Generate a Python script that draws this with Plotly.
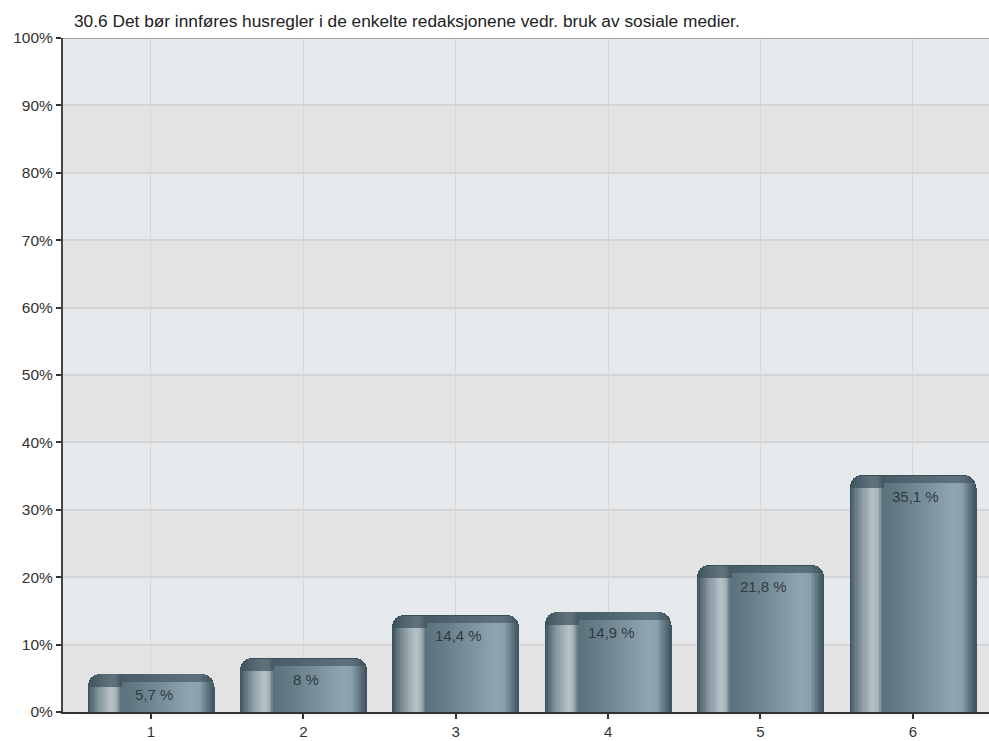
import plotly.graph_objects as go
import numpy as np

# ---- data ----
categories = [1, 2, 3, 4, 5, 6]
values = [5.7, 8.0, 14.4, 14.9, 21.8, 35.1]
y_ticks = [0, 10, 20, 30, 40, 50, 60, 70, 80, 90, 100]
y_tick_labels = [f"{t}%" for t in y_ticks]
title_text = "30.6 Det bør innføres husregler i de enkelte redaksjonene vedr. bruk av sosiale medier."

# ---- geometry / style ----
W, H = 989, 741
ML, MR, MT, MB = 63, 0, 38, 29
X_RANGE = [0.4226, 6.5]
BAR_W = 0.83
plot_w = W - ML - MR
plot_h = H - MT - MB
px_per_x = plot_w / (X_RANGE[1] - X_RANGE[0])
px_per_y = plot_h / 100.0
RADIUS = 12
FONT = "Liberation Sans, Arial, Helvetica, sans-serif"

# horizontal colour profile across a bar (fraction, colour)
stops = [
    (0.00, (0x3b, 0x4f, 0x59)),
    (0.04, (0x5d, 0x71, 0x7b)),
    (0.10, (0x8a, 0x9a, 0xa2)),
    (0.19, (0xb8, 0xc3, 0xc8)),
    (0.23, (0xa5, 0xb2, 0xb8)),
    (0.255, (0x6f, 0x84, 0x8f)),
    (0.27, (0x5b, 0x71, 0x7c)),
    (0.45, (0x6a, 0x81, 0x8c)),
    (0.82, (0x8f, 0xa5, 0xb1)),
    (0.89, (0x8a, 0xa0, 0xac)),
    (0.95, (0x5f, 0x75, 0x80)),
    (1.00, (0x3d, 0x52, 0x5c)),
]
EDGE = (0x3b, 0x4f, 0x59)


def colour_at(f, dark=0.0):
    for (f0, c0), (f1, c1) in zip(stops[:-1], stops[1:]):
        if f0 <= f <= f1:
            t = 0 if f1 == f0 else (f - f0) / (f1 - f0)
            c = [a + (b - a) * t for a, b in zip(c0, c1)]
            break
    else:
        c = list(stops[-1][1])
    c = [round(x * (1 - dark) + e * dark) for x, e in zip(c, EDGE)]
    return f"rgb({c[0]},{c[1]},{c[2]})"


fig = go.Figure()

# outer rounded bar (edge colour)
fig.add_trace(go.Bar(
    x=categories, y=values, width=BAR_W,
    marker=dict(color="rgb(59,79,89)", line=dict(width=0), cornerradius=RADIUS),
    hoverinfo="skip", showlegend=False,
))

N = 80
bar_px = BAR_W * px_per_x
sw = BAR_W / N
strip_specs = []
for i in range(N):
    f_mid = (i + 0.5) / N
    left_px = i / N * bar_px
    right_px = (i + 1) / N * bar_px
    d = min(left_px, bar_px - right_px)
    if d < RADIUS:
        curve = RADIUS - np.sqrt(max(RADIUS ** 2 - (RADIUS - d) ** 2, 0))
    else:
        curve = 0.0
    cap_px = 13.0 if f_mid < 0.27 else 8.0
    cap_px = max(cap_px, curve + 1.0)
    strip_specs.append((i, f_mid, curve, cap_px))

# cap strips (darker version of the profile)
for i, f_mid, curve, cap_px in strip_specs:
    if curve >= RADIUS - 0.5:
        continue
    ys = [v - (curve + 0.6) / px_per_y for v in values]
    fig.add_trace(go.Bar(
        x=categories, y=ys, width=sw * 1.6,
        offset=-BAR_W / 2 + i * sw - (0.3 * sw if i > 0 else 0),
        marker=dict(color=colour_at(f_mid, dark=0.7 if f_mid < 0.27 else 0.6), line=dict(width=0)),
        hoverinfo="skip", showlegend=False,
    ))

# body strips
for i, f_mid, curve, cap_px in strip_specs:
    ys = [v - cap_px / px_per_y for v in values]
    fig.add_trace(go.Bar(
        x=categories, y=ys, width=sw * 1.6,
        offset=-BAR_W / 2 + i * sw - (0.3 * sw if i > 0 else 0),
        marker=dict(color=colour_at(f_mid), line=dict(width=0)),
        hoverinfo="skip", showlegend=False,
    ))

# background bands
shapes = []
for k in range(10):
    lo, hi = k * 10, (k + 1) * 10
    if k % 2 == 0:
        shapes.append(dict(type="rect", xref="paper", yref="y", x0=0, x1=1, y0=lo, y1=hi,
                           fillcolor="#e3e3e4", line=dict(width=0), layer="below"))
# top border
shapes.append(dict(type="line", xref="paper", yref="y", x0=0, x1=1, y0=100, y1=100,
                   line=dict(color="#a3a3a3", width=2), layer="above"))
# soft shadow under the x axis
for j, a in enumerate([0.07, 0.05, 0.035, 0.02, 0.01]):
    shapes.append(dict(type="rect", xref="paper", yref="paper", x0=0.02, x1=1,
                       y0=-(j + 1) * 1.2 / plot_h, y1=-j * 1.2 / plot_h,
                       fillcolor=f"rgba(0,0,0,{a})", line=dict(width=0), layer="below"))

annotations = []
for c, v in zip(categories, values):
    annotations.append(dict(
        x=c, y=v, xref="x", yref="y", yshift=-21, xshift=3,
        text=f"{v:g}".replace(".", ",") + " %", showarrow=False,
        font=dict(family=FONT, size=15, color="#2f3b42"),
    ))
annotations.append(dict(
    x=(72 - ML) / plot_w, y=(H - MB - 21) / plot_h, xref="paper", yref="paper",
    text=title_text, showarrow=False, xanchor="left", yanchor="middle",
    font=dict(family=FONT, size=17.3, color="#222222"),
))

fig.update_layout(
    width=W, height=H,
    margin=dict(l=ML, r=MR, t=MT, b=MB, pad=0),
    paper_bgcolor="white", plot_bgcolor="#e6e9ec",
    barmode="overlay", bargap=0,
    showlegend=False,
    shapes=shapes, annotations=annotations,
    font=dict(family=FONT, size=15, color="#333333"),
    xaxis=dict(
        range=X_RANGE, tickmode="array", tickvals=categories,
        ticktext=[str(c) for c in categories],
        showgrid=True, gridcolor="#d6d6d6", gridwidth=1,
        showline=True, linecolor="#333333", linewidth=1.5,
        ticks="outside", ticklen=5, tickcolor="#333333", tickwidth=1.5,
        tickfont=dict(size=15, color="#333333"), zeroline=False, fixedrange=True,
    ),
    yaxis=dict(
        range=[0, 100], tickmode="array", tickvals=y_ticks, ticktext=y_tick_labels,
        showgrid=True, gridcolor="#d4d4d4", gridwidth=1.5,
        showline=True, linecolor="#444444", linewidth=2,
        ticks="outside", ticklen=5, tickcolor="#333333", tickwidth=1.5,
        tickfont=dict(size=15.5, color="#333333"), zeroline=False, fixedrange=True,
    ),
)

fig.write_html("out.html")
